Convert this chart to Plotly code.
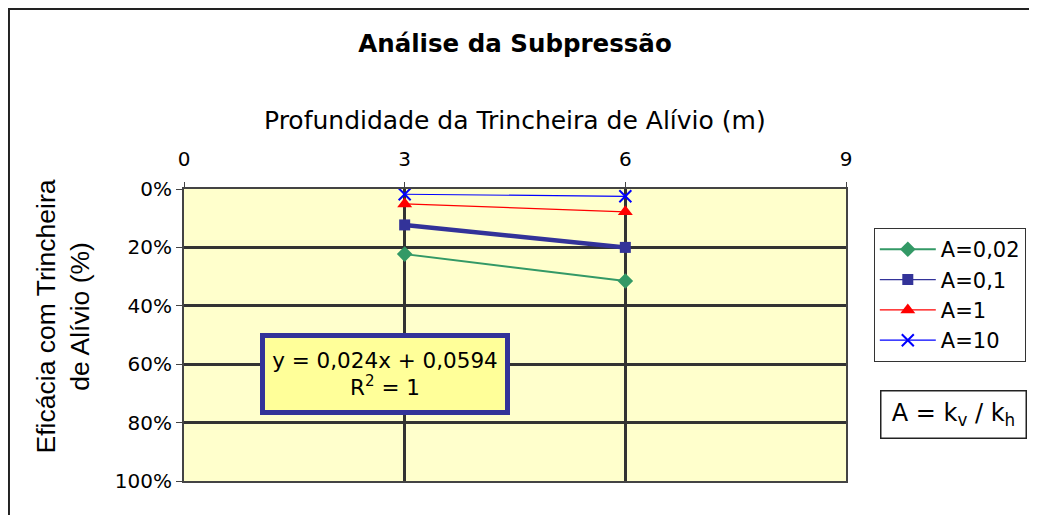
import plotly.graph_objects as go

# profundidade da trincheira (m)
depth = [3, 6]

# eficácia (fração) por valor de A = kv/kh
ef_a002 = [0.223, 0.315]
ef_a01 = [0.123, 0.200]
ef_a1 = [0.051, 0.078]
ef_a10 = [0.018, 0.025]

x_ticks = [0, 3, 6, 9]
y_ticks = [0, 0.2, 0.4, 0.6, 0.8, 1.0]

FONT = "DejaVu Sans"
AX = "#444444"

fig = go.Figure()

# linha de tendência (A=0,1), desenhada por baixo
fig.add_trace(go.Scatter(x=depth, y=ef_a01, mode="lines",
                         line=dict(color="#333399", width=4.5),
                         showlegend=False, hoverinfo="skip"))

fig.add_trace(go.Scatter(x=depth, y=ef_a002, mode="lines+markers", name="A=0,02",
                         line=dict(color="#339966", width=2),
                         marker=dict(symbol="diamond", size=12, color="#339966")))
fig.add_trace(go.Scatter(x=depth, y=ef_a01, mode="lines+markers", name="A=0,1",
                         line=dict(color="#333399", width=1.2),
                         marker=dict(symbol="square", size=11, color="#333399")))
fig.add_trace(go.Scatter(x=depth, y=ef_a1, mode="lines+markers", name="A=1",
                         line=dict(color="#FF0000", width=1.2),
                         marker=dict(symbol="triangle-up", size=13, color="#FF0000")))
fig.add_trace(go.Scatter(x=depth, y=ef_a10, mode="lines+markers", name="A=10",
                         line=dict(color="#0000FF", width=1.2),
                         marker=dict(symbol="x-thin", size=12,
                                     line=dict(color="#0000FF", width=2))))

fig.update_layout(
    width=1037, height=515,
    margin=dict(l=176, r=199, t=181, b=42),
    paper_bgcolor="white",
    plot_bgcolor="#FFFFCC",
    font=dict(family=FONT, color="black", size=20),
    title=dict(text="<b>Análise da Subpressão</b>", x=0.5, xref="paper",
               y=0.932, yref="container", yanchor="middle",
               font=dict(size=24.5, family=FONT)),
    showlegend=True,
    legend=dict(x=1.042, y=0.866, xanchor="left", yanchor="top",
                bgcolor="white", bordercolor="#333333", borderwidth=1,
                font=dict(size=21, family=FONT), tracegroupgap=0,
                itemwidth=56),
    xaxis=dict(range=[0, 9], side="top", tickvals=x_ticks,
               showgrid=True, gridcolor="#333333", gridwidth=2.5,
               showline=True, linecolor=AX, linewidth=2, mirror=True,
               ticks="outside", ticklen=5, tickcolor=AX,
               ticklabelstandoff=8,
               zeroline=False, tickfont=dict(size=20)),
    yaxis=dict(range=[1, 0], tickvals=y_ticks, tickformat=".0%",
               showgrid=True, gridcolor="#333333", gridwidth=2.5,
               showline=True, linecolor=AX, linewidth=2, mirror=True,
               ticks="outside", ticklen=6, tickcolor=AX,
               zeroline=False, tickfont=dict(size=20)),
)

# título do eixo x (em cima)
fig.add_annotation(x=0.5, y=1.236, xref="paper", yref="paper",
                   text="Profundidade da Trincheira de Alívio (m)",
                   showarrow=False, xanchor="center", yanchor="middle",
                   font=dict(size=25, family=FONT))

# título do eixo y
fig.add_annotation(x=-0.1835, y=0.562, xref="paper", yref="paper",
                   text="Eficácia com Trincheira<br>de Alívio (%)",
                   showarrow=False, textangle=-90,
                   xanchor="center", yanchor="middle",
                   font=dict(size=26.5, family="Liberation Sans"))

# equação da linha de tendência
fig.add_annotation(x=2.733, y=0.632, xref="x", yref="y",
                   text="y = 0,024x + 0,0594<br>R<sup>2</sup> = 1",
                   showarrow=False, xanchor="center", yanchor="middle",
                   font=dict(size=21.5, family=FONT),
                   width=230, height=62,
                   bgcolor="#FFFF99", bordercolor="#333399", borderwidth=5,
                   borderpad=5)

# definição de A
fig.add_annotation(x=1.162, y=0.229, xref="paper", yref="paper",
                   text="A = k<sub>v</sub> / k<sub>h</sub>",
                   showarrow=False, xanchor="center", yanchor="middle",
                   font=dict(size=24, family=FONT),
                   width=128, height=30,
                   bgcolor="white", bordercolor="#222222", borderwidth=1.5,
                   borderpad=8)

# moldura do gráfico
fig.add_shape(type="rect", xref="paper", yref="paper",
              x0=-0.2644, x1=1.4, y0=-0.3, y1=1.6164,
              line=dict(color="#222222", width=2), layer="below")

fig.write_html("out.html")
